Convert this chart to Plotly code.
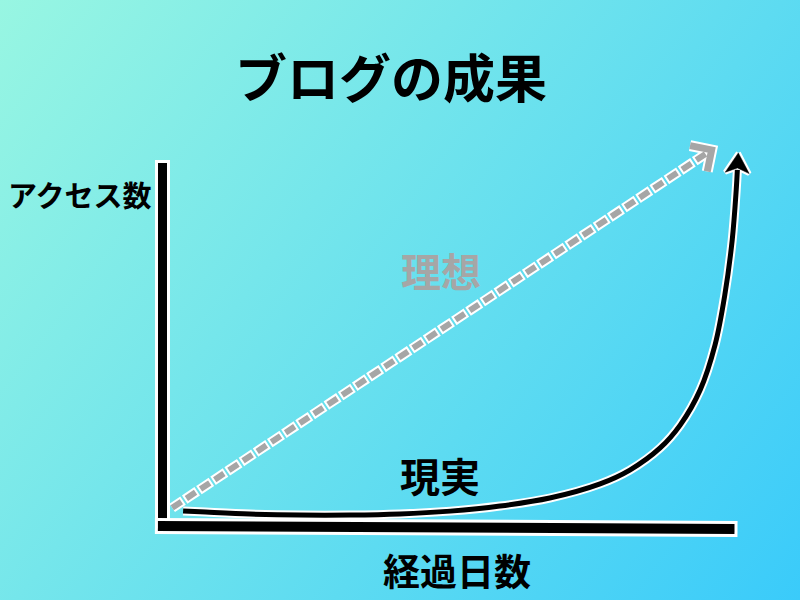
import base64
import numpy as np
import plotly.graph_objects as go

# ---------------- data ----------------
TITLE = "ブログの成果"
Y_LABEL = "アクセス数"
X_LABEL = "経過日数"
IDEAL_LABEL = "理想"
REAL_LABEL = "現実"

# axes (conceptual units: days 0-100, access 0-100)
axis_days = [-0.8, 100.0]
axis_floor = [0.0, -0.8]
axis_access = [100.0, 0.0]

# ideal: straight growth
ideal_days = [1.7, 96.0]
ideal_access = [5.0, 103.6]

# reality: flat for a long time, then explosive growth
real_days = [3.6, 6.6, 15.3, 24.0, 32.8, 41.5, 50.3, 59.0, 67.7, 76.5,
             81.7, 87.0, 90.5, 94.0, 96.6, 98.3, 99.6, 100.3, 100.5]
real_access = [4.1, 3.9, 3.3, 3.0, 3.0, 3.3, 4.1, 5.5, 7.7, 11.6,
               15.4, 21.5, 27.8, 37.5, 49.9, 63.6, 78.8, 92.6, 98.1]

# ---------------- scale helpers (pixel <-> data) ----------------
W, H = 800, 600
OX, OY = 162.5, 526.0   # pixel position of the origin
SX, SY = 5.72, 3.63     # pixels per unit


def to_px(x, y):
    return OX + SX * x, OY - SY * y


def to_data(px, py):
    return (px - OX) / SX, (OY - py) / SY


def extend(xs, ys, pad):
    """extend a 2-point segment by pad pixels at both ends"""
    p0 = np.array(to_px(xs[0], ys[0]))
    p1 = np.array(to_px(xs[-1], ys[-1]))
    d = (p1 - p0) / np.linalg.norm(p1 - p0)
    a = to_data(*(p0 - pad * d))
    b = to_data(*(p1 + pad * d))
    return [a[0], b[0]], [a[1], b[1]]


def unit(a, b):
    v = np.array(b) - np.array(a)
    return v / np.linalg.norm(v)


def rot(v, deg):
    t = np.radians(deg)
    c, s = np.cos(t), np.sin(t)
    return np.array([c * v[0] - s * v[1], s * v[0] + c * v[1]])


x_rng = [to_data(0, 0)[0], to_data(W, 0)[0]]
y_rng = [to_data(0, H)[1], to_data(0, 0)[1]]

fig = go.Figure()


def line(xs, ys, color, width, dash=None, shape="linear"):
    fig.add_trace(go.Scatter(
        x=xs, y=ys, mode="lines", hoverinfo="skip", showlegend=False,
        line=dict(color=color, width=width, dash=dash, shape=shape,
                  smoothing=1.0 if shape == "spline" else None)))


def poly(pts_px, fill, lcolor, lwidth):
    dd = [to_data(*p) for p in pts_px] + [to_data(*pts_px[0])]
    fig.add_trace(go.Scatter(
        x=[p[0] for p in dd], y=[p[1] for p in dd], mode="lines",
        fill="toself", fillcolor=fill, hoverinfo="skip", showlegend=False,
        line=dict(color=lcolor, width=lwidth)))


def polyline_px(pts_px, color, width):
    dd = [to_data(*p) for p in pts_px]
    line([p[0] for p in dd], [p[1] for p in dd], color, width)


# ---------------- axes ----------------
vx, vy = extend([0, 0], axis_access, 3)
line(vx, vy, "white", 15)
line([0, 0], axis_access, "black", 9)
hx, hy = extend(axis_days, axis_floor, 3)
line(hx, hy, "white", 16)
line(axis_days, axis_floor, "black", 10)

# ---------------- ideal (dashed gray arrow) ----------------
GRAY = "#a6a6a6"
t_px = np.array(to_px(ideal_days[-1], ideal_access[-1]))
d = unit(to_px(ideal_days[0], ideal_access[0]), t_px)
back = -d
arm1 = t_px + 22 * rot(back, 45)
arm2 = t_px + 22 * rot(back, -45)
line(ideal_days, ideal_access, "white", 10, dash="13px,2px,2px,0px")
polyline_px([arm1, t_px, arm2], "white", 11)
line(ideal_days, ideal_access, GRAY, 6, dash="11px,6px")
polyline_px([arm1, t_px, arm2], GRAY, 7)

# ---------------- reality (black curve arrow) ----------------
p_px = np.array(to_px(real_days[-1], real_access[-1]))
q_px = np.array(to_px(real_days[-2], real_access[-2]))
d2 = unit(q_px, p_px)
n2 = np.array([-d2[1], d2[0]])
head = [p_px + 17 * d2, p_px - 3 * d2 + 12 * n2, p_px + 2 * d2, p_px - 3 * d2 - 12 * n2]
line(real_days, real_access, "white", 9, shape="spline")
poly(head, "white", "white", 5)
line(real_days, real_access, "black", 5, shape="spline")
poly(head, "black", "black", 0.5)

# ---------------- texts ----------------
FONT = "Noto Sans CJK JP, Noto Sans, sans-serif"


def label(text, cx, cy, size, color="black"):
    fig.add_annotation(
        text=text, xref="paper", yref="paper", x=cx / W, y=1 - cy / H,
        xanchor="center", yanchor="middle", showarrow=False,
        font=dict(family=FONT, size=size, color=color, weight=700))


label(TITLE, 391, 75, 52)
label(Y_LABEL, 80, 194, 29)
label(IDEAL_LABEL, 441, 270, 40, GRAY)
label(REAL_LABEL, 440, 475, 40)
label(X_LABEL, 457, 570, 37)

# ---------------- background gradient ----------------
svg = ("<svg xmlns='http://www.w3.org/2000/svg' width='800' height='600' "
       "preserveAspectRatio='none' viewBox='0 0 800 600'>"
       "<defs><linearGradient id='g' x1='0' y1='0' x2='800' y2='600' "
       "gradientUnits='userSpaceOnUse'>"
       "<stop offset='0' stop-color='#98f6e2'/>"
       "<stop offset='1' stop-color='#3acbfa'/>"
       "</linearGradient></defs>"
       "<rect width='800' height='600' fill='url(#g)'/></svg>")
src = "data:image/svg+xml;base64," + base64.b64encode(svg.encode()).decode()

fig.update_layout(
    width=W, height=H,
    margin=dict(l=0, r=0, t=0, b=0),
    paper_bgcolor="#6ee0ee", plot_bgcolor="rgba(0,0,0,0)",
    xaxis=dict(range=x_rng, visible=False, fixedrange=True),
    yaxis=dict(range=y_rng, visible=False, fixedrange=True),
    images=[dict(source=src, xref="paper", yref="paper", x=0, y=1,
                 sizex=1, sizey=1, xanchor="left", yanchor="top",
                 sizing="stretch", layer="below")],
)

fig.write_html(
    "out.html",
    config={"displayModeBar": False},
    post_script="document.body.style.margin='0';document.body.style.overflow='hidden';",
)
